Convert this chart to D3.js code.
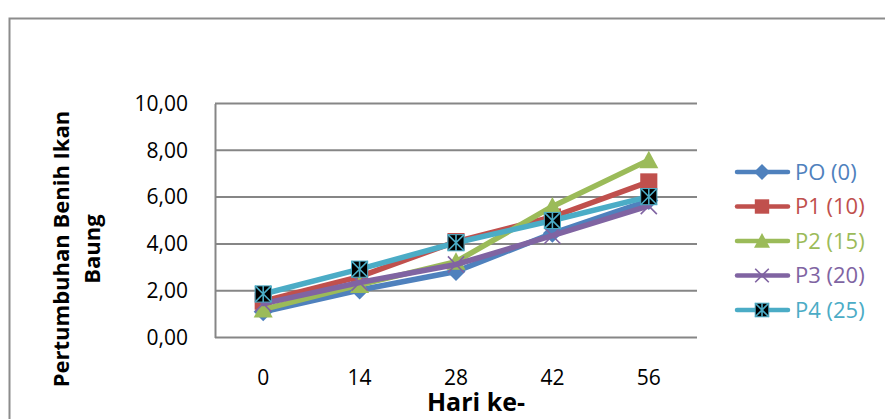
<!DOCTYPE html>
<html>
<head>
<meta charset="utf-8">
<script src="https://cdn.jsdelivr.net/npm/d3@7"></script>
<style>
  html, body { margin: 0; padding: 0; background: #fff; }
  svg { display: block; font-family: "Open Sans", "Noto Sans", sans-serif; }
</style>
</head>
<body>
<svg id="chart" width="885" height="419"></svg>
<script>
// Days of observation (category axis)
const days = ["0", "14", "28", "42", "56"];

// Growth per treatment
const seriesNames = ["PO (0)", "P1 (10)", "P2 (15)", "P3 (20)", "P4 (25)"];
const p0 = [1.10, 2.03, 2.82, 4.45, 5.85];
const p1 = [1.55, 2.60, 4.10, 5.15, 6.65];
const p2 = [1.20, 2.25, 3.24, 5.60, 7.58];
const p3 = [1.45, 2.35, 3.12, 4.35, 5.62];
const p4 = [1.86, 2.92, 4.05, 5.00, 6.02];
const seriesValues = [p0, p1, p2, p3, p4];

const seriesColors = ["#4F81BD", "#C0504D", "#9BBB59", "#8064A2", "#4BACC6"];
const markerTypes = ["diamond", "square", "triangle", "x", "star"];

const yTicks = [0, 2, 4, 6, 8, 10];
const yTitle = ["Pertumbuhan Benih Ikan", "Baung"];
const xTitle = "Hari ke-";

const svg = d3.select("#chart");

// outer chart frame
svg.append("rect")
  .attr("x", 9.5).attr("y", 18.5)
  .attr("width", 900).attr("height", 500)
  .attr("fill", "none").attr("stroke", "#8c8c8c").attr("stroke-width", 2);

const plot = { left: 215, right: 697, top: 103.5, bottom: 337.5 };

const x = d3.scaleBand().domain(days).range([plot.left, plot.right]);
const y = d3.scaleLinear().domain([0, 10]).range([plot.bottom, plot.top]);
const cx = d => x(d) + x.bandwidth() / 2;

// horizontal gridlines
svg.append("g")
  .selectAll("line")
  .data(yTicks.filter(t => t > 0))
  .join("line")
  .attr("x1", plot.left).attr("x2", plot.right)
  .attr("y1", d => y(d)).attr("y2", d => y(d))
  .attr("stroke", "#868686").attr("stroke-width", 2);

// y axis
const yAxis = svg.append("g")
  .attr("transform", `translate(${plot.left},0)`)
  .call(d3.axisLeft(y).tickValues(yTicks).tickSize(0).tickPadding(27)
    .tickFormat(d => d3.format(".2f")(d).replace(".", ",")));
yAxis.select(".domain").attr("stroke", "#868686").attr("stroke-width", 2);
yAxis.selectAll("text")
  .attr("font-size", 21).attr("fill", "#000")
  .attr("font-family", "Open Sans");

// x axis
const xAxis = svg.append("g")
  .attr("transform", `translate(0,${plot.bottom})`)
  .call(d3.axisBottom(x).tickSize(0).tickPadding(33));
xAxis.select(".domain").attr("stroke", "#868686").attr("stroke-width", 2)
  .attr("d", `M${plot.left},0H${plot.right}`);
xAxis.selectAll("text")
  .attr("font-size", 21).attr("fill", "#000")
  .attr("font-family", "Open Sans");

// axis titles
svg.append("text")
  .attr("x", 476).attr("y", 411)
  .attr("text-anchor", "middle")
  .attr("font-size", 25).attr("font-weight", "bold").attr("fill", "#000")
  .text(xTitle);

const yt = svg.append("text")
  .attr("transform", "translate(69,249) rotate(-90)")
  .attr("text-anchor", "middle")
  .attr("font-size", 22).attr("font-weight", "bold").attr("fill", "#000");
yt.append("tspan").attr("x", 0).attr("dy", 0).text(yTitle[0]);
yt.append("tspan").attr("x", 0).attr("dy", 31).text(yTitle[1]);

// marker drawing
function drawMarker(g, type, color, px, py, s) {
  const h = s / 2;
  if (type === "diamond") {
    g.append("path")
      .attr("d", `M${px},${py - h}L${px + h},${py}L${px},${py + h}L${px - h},${py}Z`)
      .attr("fill", color);
  } else if (type === "square") {
    g.append("rect")
      .attr("x", px - h * 0.9).attr("y", py - h * 0.9)
      .attr("width", s * 0.9).attr("height", s * 0.9)
      .attr("fill", color);
  } else if (type === "triangle") {
    g.append("path")
      .attr("d", `M${px},${py - h}L${px + h},${py + h * 0.85}L${px - h},${py + h * 0.85}Z`)
      .attr("fill", color);
  } else if (type === "x") {
    const k = h * 0.85;
    g.append("path")
      .attr("d", `M${px - k},${py - k}L${px + k},${py + k}M${px + k},${py - k}L${px - k},${py + k}`)
      .attr("stroke", color).attr("stroke-width", 1.6).attr("fill", "none");
  } else if (type === "star") {
    const k = h * 0.85;
    g.append("rect")
      .attr("x", px - k).attr("y", py - k)
      .attr("width", 2 * k).attr("height", 2 * k)
      .attr("fill", "#000").attr("stroke", color).attr("stroke-width", 1);
    g.append("path")
      .attr("d", `M${px - k},${py - k}L${px + k},${py + k}M${px + k},${py - k}L${px - k},${py + k}M${px},${py - k}L${px},${py + k}`)
      .attr("stroke", color).attr("stroke-width", 1.6).attr("fill", "none");
  }
}

const line = d3.line()
  .x((d, i) => cx(days[i]))
  .y(d => y(d));

// series: line then markers, in order
seriesValues.forEach((vals, si) => {
  const g = svg.append("g");
  g.append("path")
    .attr("d", line(vals))
    .attr("fill", "none")
    .attr("stroke", seriesColors[si])
    .attr("stroke-width", 5.5)
    .attr("stroke-linejoin", "round")
    .attr("stroke-linecap", "round");
  vals.forEach((v, i) => drawMarker(g, markerTypes[si], seriesColors[si], cx(days[i]), y(v), 19));
});

// legend
const legend = svg.append("g");
seriesNames.forEach((name, si) => {
  const ly = 172 + si * 34.5;
  const g = legend.append("g");
  g.append("line")
    .attr("x1", 737).attr("x2", 788)
    .attr("y1", ly).attr("y2", ly)
    .attr("stroke", seriesColors[si]).attr("stroke-width", 4.5)
    .attr("stroke-linecap", "round");
  drawMarker(g, markerTypes[si], seriesColors[si], 762, ly, 16);
  g.append("text")
    .attr("x", 795).attr("y", ly)
    .attr("dy", "0.36em")
    .attr("font-size", 22)
    .attr("fill", seriesColors[si])
    .text(name);
});
</script>
</body>
</html>
